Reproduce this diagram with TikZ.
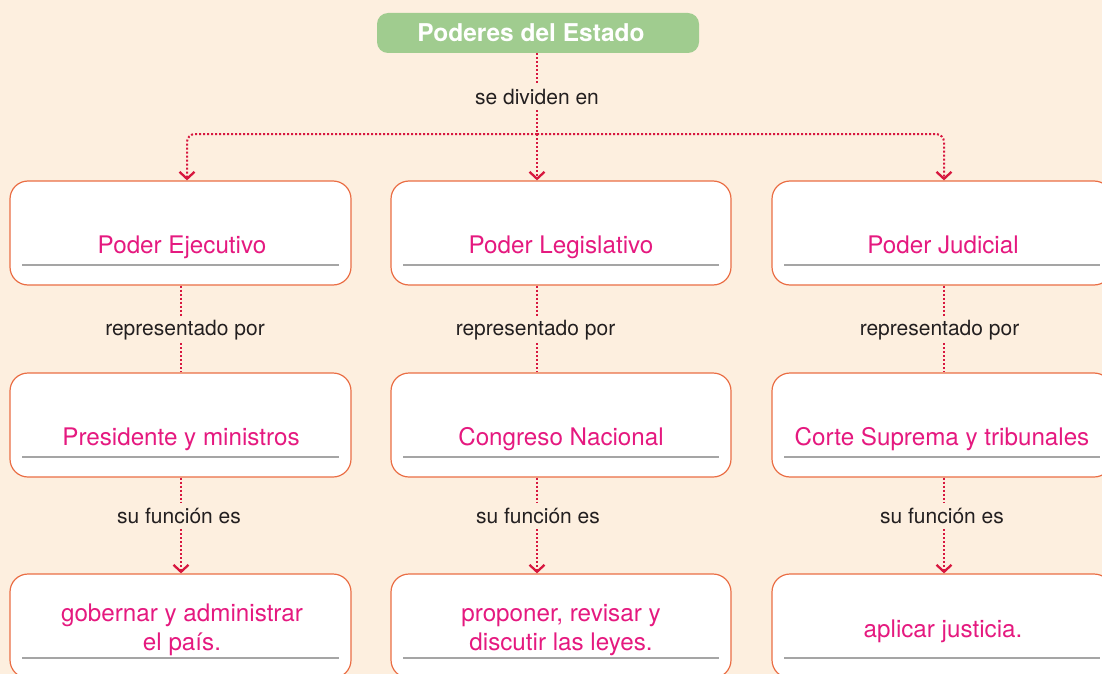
\documentclass[tikz,border=0pt]{standalone}
\usepackage{fontspec}
\setmainfont{TeX Gyre Heros}
\usetikzlibrary{arrows.meta}
\definecolor{bgc}{HTML}{FDEFDF}
\definecolor{greenc}{HTML}{A0CC8F}
\definecolor{boxc}{HTML}{EA6E45}
\definecolor{pinkc}{HTML}{E5197F}
\definecolor{connc}{HTML}{D7173F}
\definecolor{labc}{HTML}{231F20}
\definecolor{rulec}{HTML}{A5A5A5}
\tikzset{
  box/.style={draw=boxc, line width=1.2pt, fill=white, rounded corners=18pt, minimum height=104pt, inner sep=0pt},
  title/.style={fill=greenc, rounded corners=11pt, minimum width=322pt, minimum height=40pt, inner sep=0pt, text=white, font=\fontsize{24.5}{29}\selectfont\bfseries},
  ptext/.style={text=pinkc, font=\fontsize{24.2}{29}\selectfont, inner sep=0pt, align=center},
  lab/.style={text=labc, font=\fontsize{21}{25}\selectfont, inner sep=0pt, minimum height=26pt},
  conn/.style={draw=connc, line width=2pt, dash pattern=on 2pt off 2pt},
  tip/.style={-{Straight Barb[length=7pt,width=15pt,line width=2.3pt]}},
  grule/.style={draw=rulec, line width=1.1pt}
}
\begin{document}
\begin{tikzpicture}[x=1pt,y=-1pt]
\useasboundingbox (0,0) rectangle (1102,674);
\fill[bgc] (0,0) rectangle (1102,674);
\clip (0,0) rectangle (1102,674);

% column coordinates
\coordinate (c1) at (181,0);
\coordinate (c2) at (537,0);
\coordinate (c3) at (944,0);

% title
\node[title] (top) at (538,33) {\hspace*{-14pt}Poderes del Estado};
\node[lab] (sd) at (537,97) {se dividen en};
\coordinate (j) at (537,134);

% boxes
\node[box, minimum width=341pt] (e1) at (180.5,233) {};
\node[box, minimum width=340pt] (l1) at (561,233) {};
\node[box, minimum width=340pt] (j1) at (942,233) {};
\node[box, minimum width=341pt] (e2) at (180.5,425) {};
\node[box, minimum width=340pt] (l2) at (561,425) {};
\node[box, minimum width=340pt] (j2) at (942,425) {};
\node[box, minimum width=341pt] (e3) at (180.5,626) {};
\node[box, minimum width=340pt] (l3) at (561,626) {};
\node[box, minimum width=340pt] (j3) at (942,626) {};

% rules
\foreach \b/\y in {e1/265,l1/265,j1/265,e2/457,l2/457,j2/457,e3/658,l3/658,j3/658}{
  \draw[grule] ([xshift=13pt]\b.west |- 0,\y) -- ([xshift=-13pt]\b.east |- 0,\y);
}

% texts
\node[ptext, anchor=base] (te1) at (182,253) {Poder Ejecutivo};
\node[ptext, anchor=base] (tl1) at (561,253) {Poder Legislativo};
\node[ptext, anchor=base] (tj1) at (943,253) {Poder Judicial};
\node[ptext, anchor=base] (te2) at (181,445) {Presidente y ministros};
\node[ptext, anchor=base] (tl2) at (561,445) {Congreso Nacional};
\node[ptext, anchor=base] (tj2) at (942,445) {Corte Suprema y tribunales};
\node[ptext] (te3) at (182,630) {gobernar y administrar\\el país.};
\node[ptext] (tl3) at (561,630) {proponer, revisar y\\discutir las leyes.};
\node[ptext, anchor=base] (tj3) at (943,637) {aplicar justicia.};

% labels
\node[lab] (r1) at (185,330) {representado por};
\node[lab] (r2) at (535.5,330) {representado por};
\node[lab] (r3) at (939.5,330) {representado por};
\node[lab] (f1) at (179,516) {su función es};
\node[lab] (f2) at (538,516) {su función es};
\node[lab] (f3) at (942,516) {su función es};

% top connectors
\draw[conn] (top.south -| c2) -- (sd.north -| c2);
\draw[conn] (sd.south -| c2) -- (j);
\draw[conn, tip] (j) -- (c2 |- l1.north);
\draw[conn, tip, rounded corners=8pt] (j) -| ([xshift=6.5pt]e1.north);
\draw[conn, tip, rounded corners=8pt] (j) -| (c3 |- j1.north);

% row connectors
\foreach \c/\a/\r/\b/\f/\d in {c1/e1/r1/e2/f1/e3, c2/l1/r2/l2/f2/l3, c3/j1/r3/j2/f3/j3}{
  \draw[conn] (\c |- \a.south) -- (\c |- \r.north);
  \draw[conn] (\c |- \r.south) -- (\c |- \b.north);
  \draw[conn] (\c |- \b.south) -- (\c |- \f.north);
  \draw[conn, tip] (\c |- \f.south) -- (\c |- \d.north);
}
\end{tikzpicture}
\end{document}
